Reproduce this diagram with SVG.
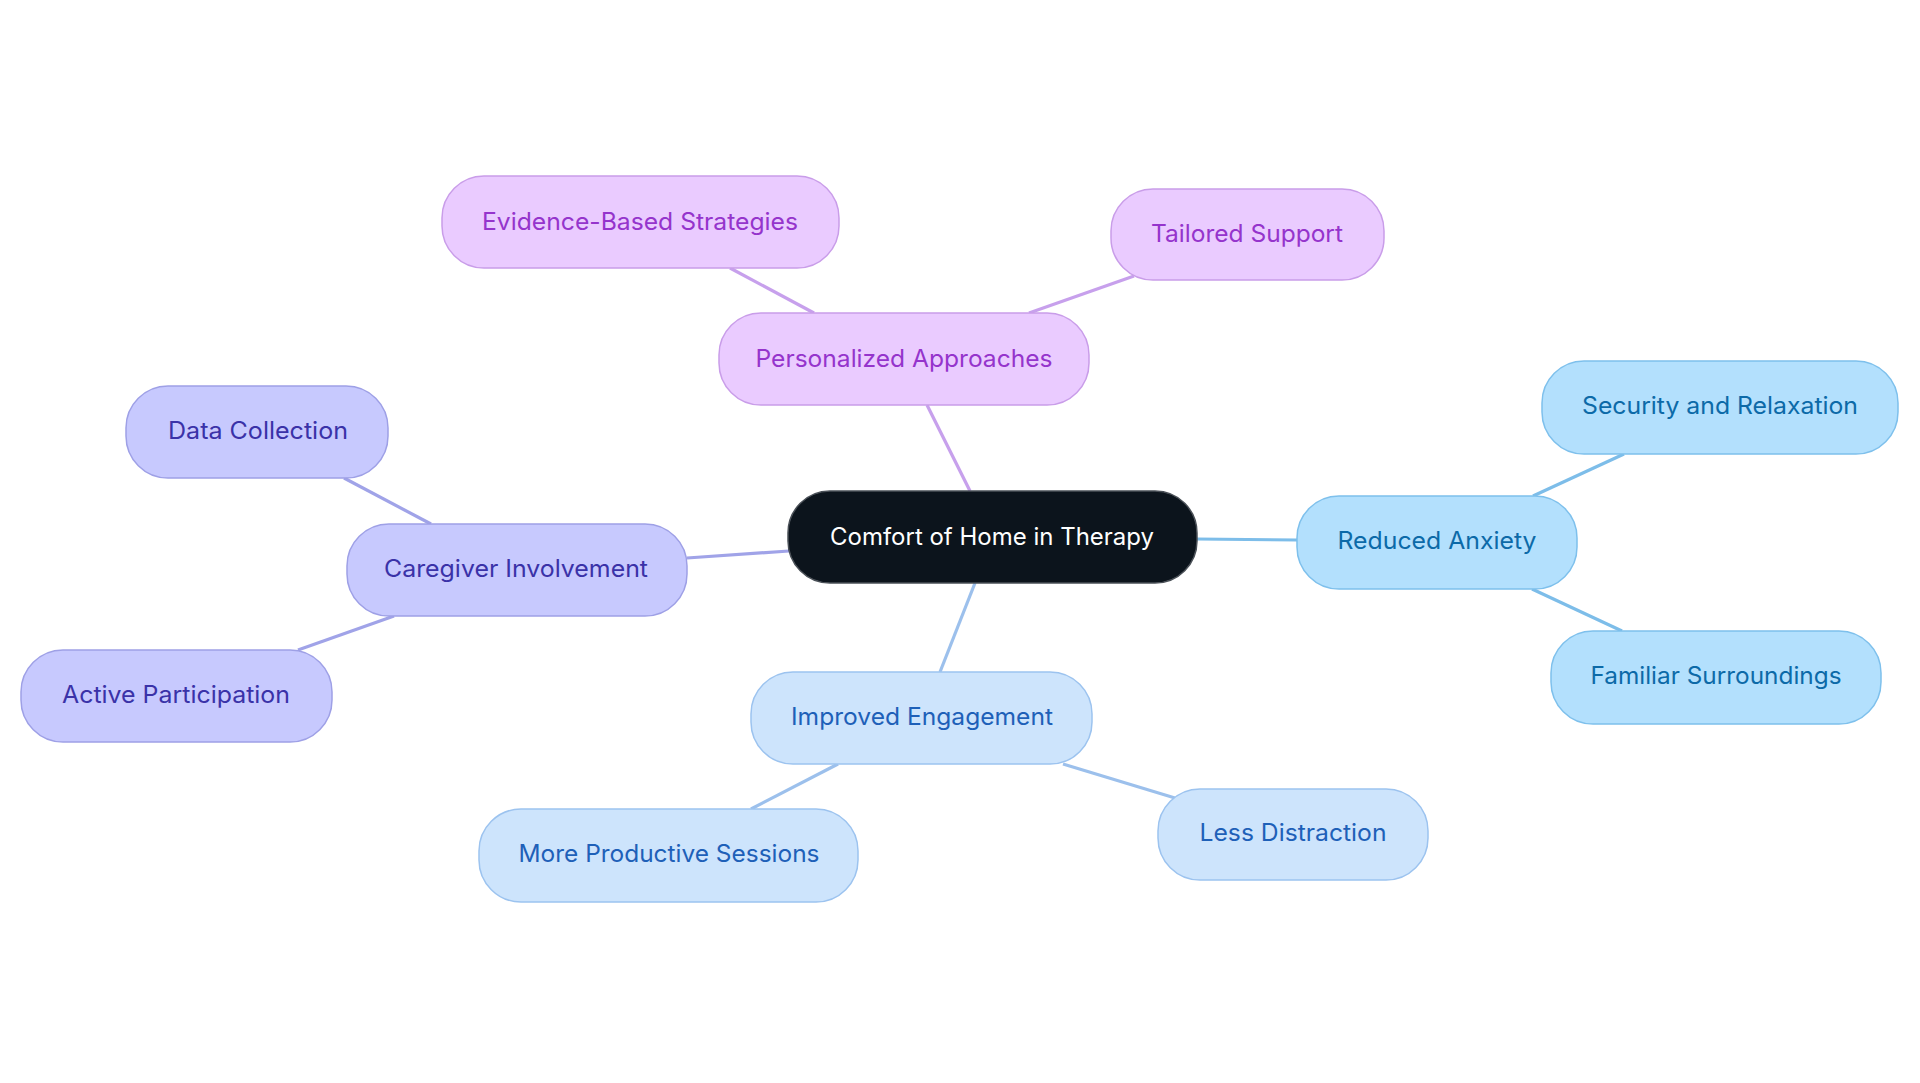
<svg xmlns="http://www.w3.org/2000/svg" width="1920" height="1083" viewBox="0 0 1920 1083">
<style>
text{font-family:Inter,"Noto Sans","Liberation Sans",sans-serif;font-size:24px;text-anchor:middle}
.edge{stroke-width:3.2;fill:none}
.node rect{stroke-width:1.5}
.root rect{fill:#0c141c;stroke:#4a5057}
.root text{fill:#ffffff}
.pur rect{fill:#eacbff;stroke:#c99de9}
.pur text{fill:#9534cc}
.ind rect{fill:#c7c9fe;stroke:#9ea0e6}
.ind text{fill:#3a32a8}
.sky rect{fill:#b3e0fd;stroke:#7ec0ec}
.sky text{fill:#0c6aa8}
.blu rect{fill:#cde4fc;stroke:#9cc3ef}
.blu text{fill:#1e60b8}
.e-pur{stroke:#c7a0ec}
.e-ind{stroke:#a0a3e8}
.e-sky{stroke:#7dbde9}
.e-blu{stroke:#9cc0ec}
</style>
<rect width="1920" height="1083" fill="#ffffff"/>
<g id="connectors">
<line class="edge e-pur" x1="970" y1="491" x2="927" y2="405"/>
<line class="edge e-pur" x1="814" y1="313" x2="730" y2="268"/>
<line class="edge e-pur" x1="1029" y1="313" x2="1134" y2="276"/>
<line class="edge e-ind" x1="789" y1="551" x2="687" y2="558"/>
<line class="edge e-ind" x1="431" y1="524" x2="344" y2="478"/>
<line class="edge e-ind" x1="394" y1="616" x2="298" y2="650"/>
<line class="edge e-sky" x1="1197" y1="539" x2="1297" y2="540"/>
<line class="edge e-sky" x1="1533" y1="496" x2="1624" y2="454"/>
<line class="edge e-sky" x1="1532" y1="589" x2="1622" y2="631"/>
<line class="edge e-blu" x1="975" y1="583" x2="940" y2="672"/>
<line class="edge e-blu" x1="838" y1="764" x2="751" y2="809"/>
<line class="edge e-blu" x1="1063" y1="764" x2="1175" y2="798"/>
</g>
<g id="n-root" class="node root"><rect x="788" y="491" width="409" height="92" rx="42"/><text x="992" y="545" textLength="324" lengthAdjust="spacingAndGlyphs">Comfort of Home in Therapy</text></g>
<g id="n-personalized" class="node pur"><rect x="719" y="313" width="370" height="92" rx="42"/><text x="904" y="367" textLength="297" lengthAdjust="spacingAndGlyphs">Personalized Approaches</text></g>
<g id="n-evidence" class="node pur"><rect x="442" y="176" width="397" height="92" rx="42"/><text x="640" y="230" textLength="316" lengthAdjust="spacingAndGlyphs">Evidence-Based Strategies</text></g>
<g id="n-tailored" class="node pur"><rect x="1111" y="189" width="273" height="91" rx="42"/><text x="1247" y="242" textLength="192" lengthAdjust="spacingAndGlyphs">Tailored Support</text></g>
<g id="n-caregiver" class="node ind"><rect x="347" y="524" width="340" height="92" rx="42"/><text x="516" y="577" textLength="264" lengthAdjust="spacingAndGlyphs">Caregiver Involvement</text></g>
<g id="n-data" class="node ind"><rect x="126" y="386" width="262" height="92" rx="42"/><text x="258" y="439" textLength="180" lengthAdjust="spacingAndGlyphs">Data Collection</text></g>
<g id="n-active" class="node ind"><rect x="21" y="650" width="311" height="92" rx="42"/><text x="176" y="703" textLength="228" lengthAdjust="spacingAndGlyphs">Active Participation</text></g>
<g id="n-reduced" class="node sky"><rect x="1297" y="496" width="280" height="93" rx="42"/><text x="1437" y="549" textLength="199" lengthAdjust="spacingAndGlyphs">Reduced Anxiety</text></g>
<g id="n-security" class="node sky"><rect x="1542" y="361" width="356" height="93" rx="42"/><text x="1720" y="414" textLength="276" lengthAdjust="spacingAndGlyphs">Security and Relaxation</text></g>
<g id="n-familiar" class="node sky"><rect x="1551" y="631" width="330" height="93" rx="42"/><text x="1716" y="684" textLength="251" lengthAdjust="spacingAndGlyphs">Familiar Surroundings</text></g>
<g id="n-improved" class="node blu"><rect x="751" y="672" width="341" height="92" rx="42"/><text x="922" y="725" textLength="262" lengthAdjust="spacingAndGlyphs">Improved Engagement</text></g>
<g id="n-more" class="node blu"><rect x="479" y="809" width="379" height="93" rx="42"/><text x="669" y="862" textLength="301" lengthAdjust="spacingAndGlyphs">More Productive Sessions</text></g>
<g id="n-less" class="node blu"><rect x="1158" y="789" width="270" height="91" rx="42"/><text x="1293" y="841" textLength="187" lengthAdjust="spacingAndGlyphs">Less Distraction</text></g>
</svg>
